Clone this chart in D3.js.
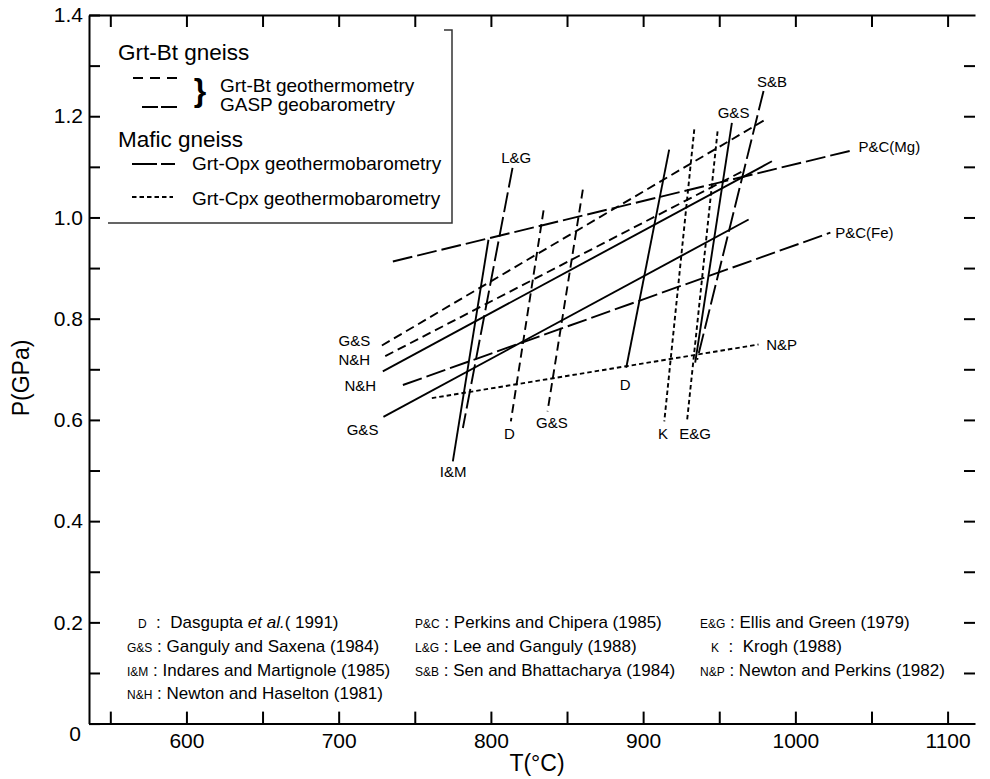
<!DOCTYPE html>
<html lang="en">

<head>
    <meta charset="UTF-8">
    <title>P-T estimates</title>
    <style>
        body { margin: 0; background: #fff; }
        svg { font-family: "Liberation Sans", Arial, Helvetica, sans-serif; }
        .axis path, .axis line { fill: none; stroke: #000; stroke-width: 2; }
        .axis text { font-size: 21px; fill: #000; }
        .pt { fill: none; stroke: #000; stroke-width: 1.9; }
    </style>
</head>

<body>
    <div id="graph"></div>

    <script src="https://cdnjs.cloudflare.com/ajax/libs/d3/7.0.0/d3.min.js"></script>

    <script>
        // each line: [[T, P], [T, P]]  (T in °C, P in GPa)
        // Grt-Bt gneiss, Grt-Bt geothermometry (dashed)
        var grtBtLines = [
            [[728.4, 0.747], [979.6, 1.192]],
            [[730.6, 0.726], [965.1, 1.091]],
            [[834.6, 1.014], [813.1, 0.597]],
            [[860.4, 1.055], [837.2, 0.617]]
        ];
        // Grt-Bt gneiss, GASP geobarometry (solid)
        var gaspLines = [
            [[729.0, 0.696], [984.6, 1.111]],
            [[729.4, 0.606], [969.3, 0.996]],
            [[798.4, 0.956], [775.0, 0.518]],
            [[917.1, 1.134], [888.9, 0.703]],
            [[958.3, 1.187], [934.2, 0.713]]
        ];
        // Mafic gneiss, Grt-Opx (long dash)
        var grtOpxLines = [
            [[735.6, 0.913], [1038.0, 1.133]],
            [[742.2, 0.669], [1023.0, 0.970]],
            [[814.2, 1.098], [781.6, 0.584]],
            [[979.1, 1.250], [935.5, 0.719]]
        ];
        // Mafic gneiss, Grt-Cpx (short dash)
        var grtCpxLines = [
            [[761.2, 0.643], [975.8, 0.749]],
            [[933.6, 1.174], [913.9, 0.597]],
            [[948.9, 1.170], [928.8, 0.597]]
        ];

        var lineLabels = ["L&G", "S&B", "G&S", "P&C(Mg)", "P&C(Fe)", "N&P", "G&S", "N&H", "N&H", "G&S", "I&M", "D", "G&S", "D", "K", "E&G"];
        var lineLabelT = [816.6, 984.6, 959.4, 1041.5, 1026.2, 980.9, 720.7, 720.7, 724.6, 726.1, 775.2, 812.2, 840.1, 888.2, 913.0, 934.2];
        var lineLabelP = [1.118, 1.269, 1.207, 1.140, 0.970, 0.749, 0.757, 0.719, 0.668, 0.581, 0.498, 0.573, 0.594, 0.670, 0.572, 0.572];
        var lineLabelAnchor = ["middle", "middle", "middle", "start", "start", "start", "end", "end", "end", "end", "middle", "middle", "middle", "middle", "middle", "middle"];

        var xTicks = [550, 600, 650, 700, 750, 800, 850, 900, 950, 1000, 1050, 1100];
        var yTicks = [0, 0.1, 0.2, 0.3, 0.4, 0.5, 0.6, 0.7, 0.8, 0.9, 1.0, 1.1, 1.2, 1.3, 1.4];

        var refAbbr = ["D", "G&S", "I&M", "N&H", "P&C", "L&G", "S&B", "E&G", "K", "N&P"];
        var refText = ["Dasgupta |et al.|( 1991)", "Ganguly and Saxena (1984)", "Indares and Martignole (1985)",
            "Newton and Haselton (1981)", "Perkins and Chipera (1985)", "Lee and Ganguly (1988)",
            "Sen and Bhattacharya (1984)", "Ellis and Green (1979)", "Krogh (1988)", "Newton and Perkins (1982)"];

        var width = 990, height = 779;

        var svg = d3.select("#graph").append("svg")
            .attr("width", width)
            .attr("height", height);

        var x = d3.scaleLinear().domain([536, 1118]).range([89, 975]);
        var y = d3.scaleLinear().domain([0, 1.4]).range([723.6, 15]);

        // axes, ticks pointing inwards
        svg.append("g")
            .attr("class", "axis")
            .attr("transform", "translate(0," + y(0) + ")")
            .call(d3.axisBottom(x).tickValues(xTicks).tickSizeInner(-12).tickSizeOuter(0).tickPadding(9)
                .tickFormat(d => d % 100 === 0 ? d : ""));

        svg.append("g")
            .attr("class", "axis")
            .attr("transform", "translate(0," + y(1.4) + ")")
            .call(d3.axisTop(x).tickValues(xTicks).tickSizeInner(-12).tickSizeOuter(0).tickFormat(""));

        var yAxis = svg.append("g")
            .attr("class", "axis")
            .attr("transform", "translate(" + x.range()[0] + ",0)")
            .call(d3.axisLeft(y).tickValues(yTicks).tickSizeInner(-11).tickSizeOuter(0).tickPadding(6)
                .tickFormat(d => {
                    var k = Math.round(d * 10);
                    if (k % 2) return "";
                    return k === 0 ? "0" : d3.format(".1f")(d);
                }));
        // the "0" sits a bit below the corner
        yAxis.selectAll(".tick text").filter(d => d === 0).attr("y", 10).attr("x", -8);

        var rAxis = svg.append("g")
            .attr("class", "axis")
            .attr("transform", "translate(" + x.range()[1] + ",0)")
            .call(d3.axisRight(y).tickValues(yTicks.slice(1, -1)).tickSizeInner(-11).tickSizeOuter(0).tickFormat(""));
        rAxis.select(".domain").remove();

        svg.append("text")
            .attr("x", 537).attr("y", 763)
            .attr("dy", "0.35em")
            .attr("text-anchor", "middle")
            .style("font-size", "23px")
            .text("T(°C)");

        svg.append("text")
            .attr("transform", "translate(21,378) rotate(-90)")
            .attr("dy", "0.35em")
            .attr("text-anchor", "middle")
            .style("font-size", "23px")
            .text("P(GPa)");

        // P-T lines
        var line = d3.line().x(d => x(d[0])).y(d => y(d[1]));

        function drawLines(data, dash) {
            svg.append("g").selectAll("path")
                .data(data)
                .enter().append("path")
                .attr("class", "pt")
                .attr("stroke-dasharray", dash)
                .attr("d", line);
        }
        drawLines(grtBtLines, "9,5");
        drawLines(gaspLines, null);
        drawLines(grtOpxLines, "20,5");
        drawLines(grtCpxLines, "4.5,3");

        svg.append("g").selectAll("text")
            .data(lineLabels)
            .enter().append("text")
            .attr("x", (d, i) => x(lineLabelT[i]))
            .attr("y", (d, i) => y(lineLabelP[i]))
            .attr("dy", "0.35em")
            .attr("text-anchor", (d, i) => lineLabelAnchor[i])
            .style("font-size", "15px")
            .text(d => d);

        // legend box (top left)
        var lg = svg.append("g");
        lg.append("path")
            .attr("d", "M108,223H452V30H444")
            .attr("fill", "none")
            .attr("stroke", "#333")
            .attr("stroke-width", 1.5);

        lg.append("text").attr("x", 118).attr("y", 60).style("font-size", "22.5px").text("Grt-Bt gneiss");
        lg.append("line").attr("x1", 133).attr("x2", 178).attr("y1", 78).attr("y2", 78)
            .attr("class", "pt").attr("stroke-dasharray", "10,7");
        lg.append("line").attr("x1", 142).attr("x2", 178).attr("y1", 107).attr("y2", 107)
            .attr("class", "pt").attr("stroke-dasharray", "16,3");
        lg.append("text").attr("x", 200).attr("y", 101).attr("text-anchor", "middle")
            .style("font-size", "32px").style("font-weight", "bold").text("}");
        lg.append("text").attr("x", 220).attr("y", 92).style("font-size", "19px").text("Grt-Bt geothermometry");
        lg.append("text").attr("x", 220).attr("y", 111).style("font-size", "19px").text("GASP geobarometry");

        lg.append("text").attr("x", 118).attr("y", 147).style("font-size", "22.5px").text("Mafic gneiss");
        lg.append("line").attr("x1", 132).attr("x2", 175).attr("y1", 164).attr("y2", 164)
            .attr("class", "pt").attr("stroke-dasharray", "25,4,14");
        lg.append("text").attr("x", 192).attr("y", 170).style("font-size", "19px").text("Grt-Opx geothermobarometry");
        lg.append("line").attr("x1", 132).attr("x2", 173).attr("y1", 197).attr("y2", 197)
            .attr("class", "pt").attr("stroke-dasharray", "4.5,3");
        lg.append("text").attr("x", 192).attr("y", 205).style("font-size", "19px").text("Grt-Cpx geothermobarometry");

        // reference list at the bottom
        var colX = [127, 415, 700];
        var colCount = [4, 3, 3];
        var rowY = [622, 646, 670, 693];
        var refs = svg.append("g");
        var k = 0;
        colCount.forEach((n, c) => {
            for (var r = 0; r < n; r++, k++) {
                var abbr = refAbbr[k];
                var single = abbr.length === 1;
                var t = refs.append("text")
                    .attr("xml:space", "preserve")
                    .attr("x", colX[c] + (single ? 11 : 0))
                    .attr("y", rowY[r])
                    .attr("dy", "0.35em")
                    .style("font-size", "17px");
                t.append("tspan").style("font-size", "12px").text(abbr);
                t.append("tspan").text(single ? "  :  " : " : ");
                refText[k].split("|").forEach((s, j) => {
                    t.append("tspan").style("font-style", j === 1 ? "italic" : "normal").text(s);
                });
            }
        });
    </script>
</body>

</html>
